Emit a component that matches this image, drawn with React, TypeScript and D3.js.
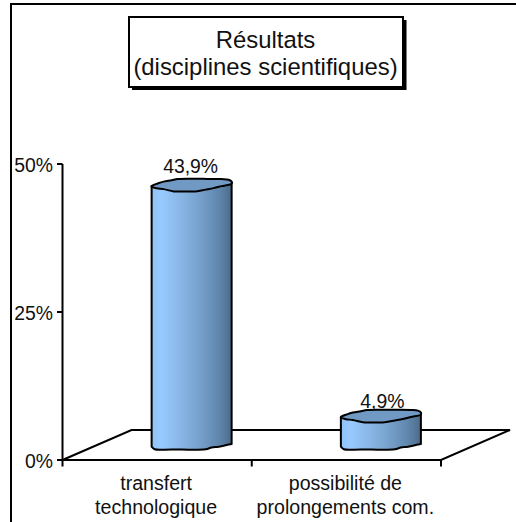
import React from "react";
import * as d3 from "d3";

const categories = ["transfert technologique", "possibilité de prolongements com."];
const categoryLines = [["transfert", "technologique"], ["possibilité de", "prolongements com."]];
const values = [43.9, 4.9];
const valueLabels = ["43,9%", "4,9%"];
const valueLabelRise = [12, 8];
const valueLabelShift = [-1, 1.5];
const ticks = [0, 25, 50];
const titleLines = ["Résultats", "(disciplines scientifiques)"];

const FONT = "'Liberation Sans', Arial, sans-serif";
const INK = "#000";
const TEXT = "#111";
const STROKE = 2;

// Irregular outline of the cylinder caps, relative to the cap centre.
const capBack: [number, number][] = [[-40, 1], [-34, -1.6], [-28, -3.5], [-20, -4.8], [-14, -6], [0, -6.3], [15, -6.2], [30, -6], [37, -5.4], [40, -3.5]];
const capFront: [number, number][] = [[40, -1.5], [30, 1], [22, 3], [14, 4.5], [4, 6.3], [-8, 6.4], [-18, 6.3], [-28, 4], [-35, 3.2], [-40, 1.5]];
const baseFront: [number, number][] = [[40, -1], [33, 0.4], [27, 1.7], [20, 2.4], [14, 4.3], [-20, 4.4], [-37, 4.3], [-40, 1.7]];

const capPath = d3.line().curve(d3.curveCatmullRomClosed.alpha(0.5));
const basePath = d3.line().curve(d3.curveCatmullRom.alpha(0.5));

export default function App() {
  const y = d3.scaleLinear().domain([0, 50]).range([460, 164]);
  const x = d3.scaleBand().domain(categories).range([62.5, 441]);
  const depthX = 69;
  const depthY = 30;
  const baseLift = 15;
  const [x0, x1] = x.range();

  return (
    <svg width={516} height={522} style={{ position: "absolute", left: 0, top: 0, background: "#fff" }} fontFamily={FONT}>
      <defs>
        <linearGradient id="barSide" x1="0" x2="1" y1="0" y2="0">
          <stop offset="0" stopColor="#8fc4f7" />
          <stop offset="0.12" stopColor="#98caff" />
          <stop offset="0.55" stopColor="#7ba6d2" />
          <stop offset="0.85" stopColor="#5f85ab" />
          <stop offset="1" stopColor="#4d6b8a" />
        </linearGradient>
      </defs>

      {/* Outer frame: left and top edges only */}
      <path d="M11,522V4H516" fill="none" stroke={INK} strokeWidth={STROKE} />

      {/* Title box with drop shadow */}
      <rect x={132} y={20} width={274.5} height={70} fill={INK} />
      <rect x={129} y={17} width={274} height={70} fill="#fff" stroke={INK} strokeWidth={STROKE} />
      {titleLines.map((line, i) => (
        <text key={line} x={265.5} y={48 + i * 27} textAnchor="middle" fontSize={23.9} fill={TEXT}>{line}</text>
      ))}

      {/* Floor */}
      <path
        d={`M${x0},${y(0)}L${x0 + depthX},${y(0) - depthY}H${x1 + depthX}L${x1},${y(0)}Z`}
        fill="#fff" stroke={INK} strokeWidth={STROKE}
      />

      {/* Value axis */}
      <path d={`M${x0},${y(50)}V${y(0)}`} stroke={INK} strokeWidth={STROKE} fill="none" />
      {ticks.map((t) => (
        <g key={t}>
          <path d={`M57,${y(t)}H${x0}`} stroke={INK} strokeWidth={STROKE} />
          <text x={53} y={y(t) + 8} textAnchor="end" fontSize={19.4} fill={TEXT}>{t}%</text>
        </g>
      ))}

      {/* Category ticks and labels */}
      {[...categories.map((c) => x(c)!), x1].map((px) => (
        <path key={px} d={`M${px},${y(0)}V${y(0) + 6.5}`} stroke={INK} strokeWidth={STROKE} />
      ))}
      {categories.map((c, i) =>
        categoryLines[i].map((line, j) => (
          <text key={line} x={x(c)! + x.bandwidth() / 2 - 1} y={490 + j * 23.5} textAnchor="middle" fontSize={19.6} fill={TEXT}>{line}</text>
        ))
      )}

      {/* Cylinders */}
      {categories.map((c, i) => {
        const cx = x(c)! + x.bandwidth() / 2 + depthX / 2;
        const baseY = y(0) - baseLift;
        const topY = baseY - (y(0) - y(values[i]));
        const shift = (pts: [number, number][], oy: number) =>
          pts.map(([a, b]) => [cx + a, oy + b] as [number, number]);
        const base = basePath(shift(baseFront, baseY))!.replace(/^M/, "L");
        const side = `M${cx - 40},${topY + 1}L${cx + 40},${topY - 3}${base}Z`;
        const cap = capPath([...shift(capBack, topY), ...shift(capFront, topY)])!;
        return (
          <g key={c}>
            <path d={side} fill="url(#barSide)" stroke={INK} strokeWidth={STROKE} strokeLinejoin="round" />
            <path d={cap} fill="#7099c4" stroke={INK} strokeWidth={STROKE} strokeLinejoin="round" />
            <text x={cx + valueLabelShift[i]} y={topY - valueLabelRise[i]} textAnchor="middle" fontSize={19.4} fill={TEXT}>{valueLabels[i]}</text>
          </g>
        );
      })}
    </svg>
  );
}
